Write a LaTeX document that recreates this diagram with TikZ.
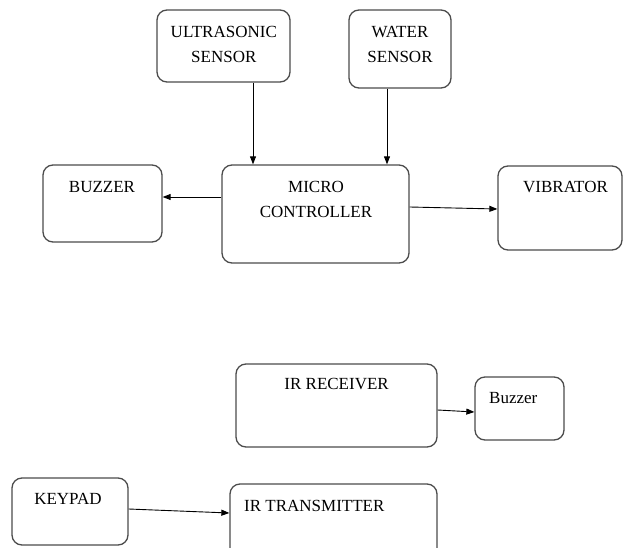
\documentclass[tikz,border=0pt]{standalone}
\usepackage{fontspec}
\setmainfont{Liberation Serif}
\usetikzlibrary{arrows.meta}

\begin{document}
\begin{tikzpicture}
	[x=1pt,y=-1pt,
	box/.style={draw=black!70,line width=1.3pt,rounded corners=10pt,inner sep=0pt},
	txt/.style={inner sep=0pt,anchor=north,align=center,font=\fontsize{17}{25}\selectfont},
	arr/.style={-{Triangle[length=8pt,width=6pt]},line width=0.9pt}]
	\clip (0,0) rectangle (623,548);
	% sensors and micro controller
	\node[box,minimum width=133pt,minimum height=72pt] (us) at (223.5,46) {};
	\node[box,minimum width=102pt,minimum height=78pt] (ws) at (400,49) {};
	\node[box,minimum width=119pt,minimum height=77pt] (bz) at (102.5,203.5) {};
	\node[box,minimum width=187pt,minimum height=98pt] (mc) at (315.5,214) {};
	\node[box,minimum width=124pt,minimum height=84pt] (vb) at (560,208) {};
	\node[txt] (us-t) at (223.8,26) {ULTRASONIC\\SENSOR};
	\node[txt] (ws-t) at (400,26) {WATER\\SENSOR};
	\node[txt] (bz-t) at (102,181.5) {BUZZER};
	\node[txt] (mc-t) at (316,181.5) {MICRO\\CONTROLLER};
	\node[txt] (vb-t) at (565.5,181.5) {VIBRATOR};
	\draw[arr] ([xshift=29.5]us.south) -- ([xshift=29.5]us.south |- mc.north);
	\draw[arr] ([xshift=-13]ws.south) -- ([xshift=-13]ws.south |- mc.north);
	\draw[arr] ([yshift=17]mc.west) -- ([yshift=17]mc.west -| bz.east);
	\draw[arr] ([yshift=7]mc.east) -- ([yshift=-1]vb.west);
	% ir link
	\node[box,minimum width=201pt,minimum height=83pt] (irr) at (336.5,405.5) {};
	\node[box,minimum width=89pt,minimum height=63pt] (bz2) at (519.5,408.5) {};
	\node[box,minimum width=116pt,minimum height=67pt] (kp) at (70,511.5) {};
	\node[box,minimum width=207pt,minimum height=76pt] (irt) at (333.5,522) {};
	\node[txt] (irr-t) at (336.6,378) {IR RECEIVER};
	\node[txt,anchor=north west] (bz2-t) at (489,392) {Buzzer};
	\node[txt] (kp-t) at (68,493) {KEYPAD};
	\node[txt,anchor=north west] (irt-t) at (244,500) {IR TRANSMITTER};
	\draw[arr] ([yshift=-4.5]irr.east) -- ([yshift=-3.5]bz2.west);
	\draw[arr] ([yshift=2.5]kp.east) -- ([yshift=9]irt.west);
\end{tikzpicture}
\end{document}
